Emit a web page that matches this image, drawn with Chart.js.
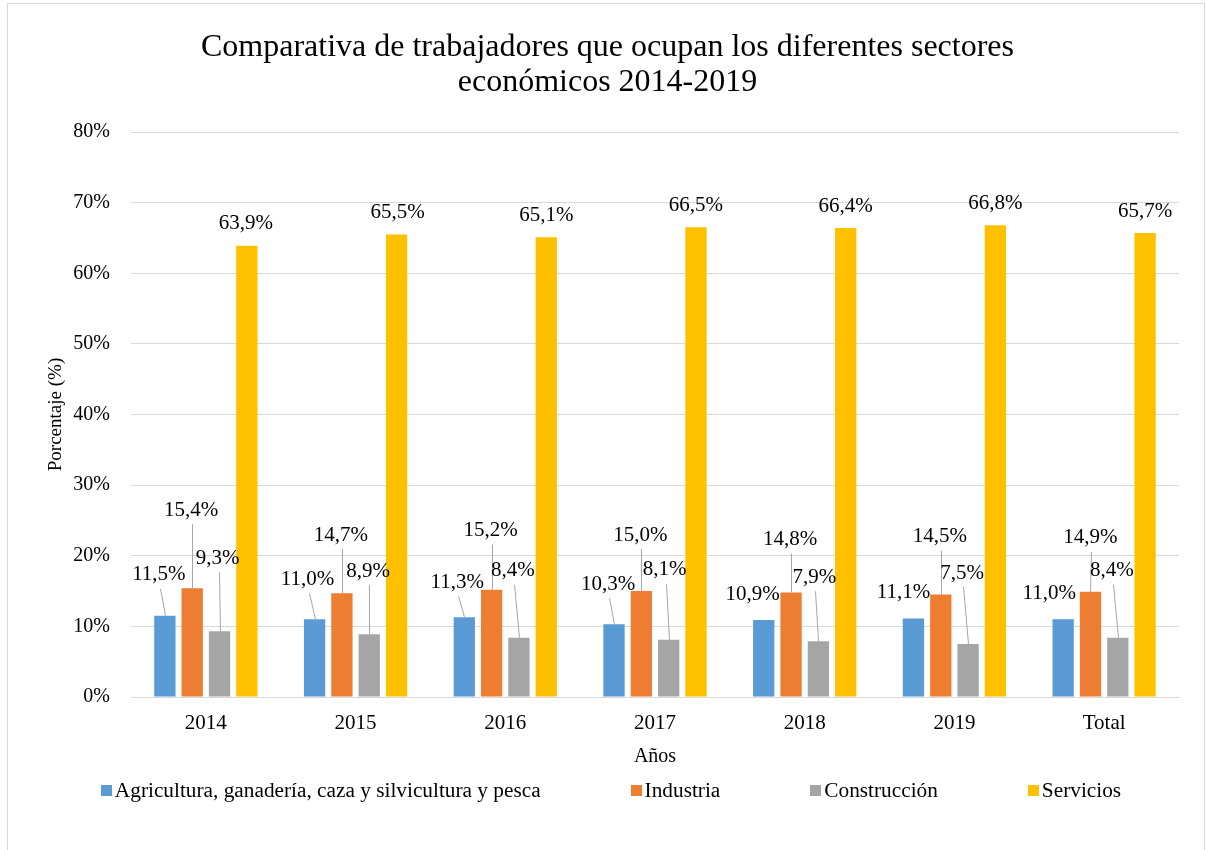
<!DOCTYPE html>
<html>
<head>
<meta charset="utf-8">
<script src="https://cdn.jsdelivr.net/npm/chart.js@4.4.0/dist/chart.umd.min.js"></script>
<style>
  html, body { margin: 0; padding: 0; background: #fff; }
  #contenitore { position: relative; width: 1207px; height: 850px; }
</style>
</head>
<body>
<div id="contenitore"><canvas id="grafico" width="1207" height="850"></canvas></div>
<script>
// DATI
const anni = ["2014", "2015", "2016", "2017", "2018", "2019", "Total"];
const agricultura = [11.5, 11.0, 11.3, 10.3, 10.9, 11.1, 11.0];
const industria = [15.4, 14.7, 15.2, 15.0, 14.8, 14.5, 14.9];
const construccion = [9.3, 8.9, 8.4, 8.1, 7.9, 7.5, 8.4];
const servicios = [63.9, 65.5, 65.1, 66.5, 66.4, 66.8, 65.7];
const tickY = [0, 10, 20, 30, 40, 50, 60, 70, 80];

const nomiSerie = [
  "Agricultura, ganadería, caza y silvicultura y pesca",
  "Industria",
  "Construcción",
  "Servicios",
];
const colori = ["#5B9BD5", "#ED7D31", "#A5A5A5", "#FFC000"];

const FONT = "'Liberation Serif', 'Times New Roman', serif";

// spostamento delle etichette (px) rispetto alla cima di ogni barra
const offEtichette = [
  [[-6, -41], [-7, -40], [-7, -35], [-6, -40], [-11, -26], [-10, -26], [-14, -26]],
  [[-1, -78], [-1, -58], [-1, -59], [-1, -56], [-1, -53], [-1, -58], [0, -54]],
  [[-2, -73], [-1, -63], [-6, -67], [-4, -70], [-4, -64], [-6, -71], [-6, -67]],
  [[-1, -22], [1, -22], [0, -22], [0, -22], [0, -22], [0, -22], [0, -22]],
];

const formato = (v) => v.toFixed(1).replace(".", ",") + "%";

// Cornice grigia attorno al grafico
const cornice = {
  id: "cornice",
  beforeDraw(chart) {
    const ctx = chart.ctx;
    ctx.save();
    ctx.strokeStyle = "#d9d9d9";
    ctx.lineWidth = 1;
    ctx.strokeRect(7.5, 3.5, 1197, 900);
    ctx.restore();
  },
};

// Etichette dei valori con linee guida
const etichette = {
  id: "etichette",
  afterDatasetsDraw(chart) {
    const ctx = chart.ctx;
    ctx.save();
    ctx.font = "21px " + FONT;
    ctx.textAlign = "center";
    ctx.textBaseline = "middle";
    chart.data.datasets.forEach((ds, i) => {
      const meta = chart.getDatasetMeta(i);
      meta.data.forEach((barra, j) => {
        const [dx, dy] = offEtichette[i][j];
        const lx = barra.x + dx;
        const ly = barra.y + dy;
        if (dy < -30) {
          ctx.strokeStyle = "#a6a6a6";
          ctx.lineWidth = 1;
          ctx.beginPath();
          ctx.moveTo(Math.round(lx + 1) + 0.5, ly + 14);
          ctx.lineTo(Math.round(barra.x) + 0.5, barra.y);
          ctx.stroke();
        }
        ctx.fillStyle = "#000";
        ctx.fillText(formato(ds.data[j]), lx, ly);
      });
    });
    ctx.restore();
  },
};

// Legenda disegnata a mano (spaziatura come nell'originale)
const legenda = {
  id: "legenda",
  afterDraw(chart) {
    const ctx = chart.ctx;
    ctx.save();
    ctx.font = "21.3px " + FONT;
    ctx.textBaseline = "middle";
    ctx.textAlign = "left";
    const larghezze = nomiSerie.map((n) => 11 + 3 + ctx.measureText(n).width);
    const spazio = 90;
    const totale = larghezze.reduce((a, b) => a + b, 0) + spazio * (nomiSerie.length - 1);
    let x = 611 - totale / 2;
    const y = 791;
    nomiSerie.forEach((n, i) => {
      ctx.fillStyle = colori[i];
      ctx.fillRect(Math.round(x), y - 6, 11, 11);
      ctx.fillStyle = "#000";
      ctx.fillText(n, x + 14, y);
      x += larghezze[i] + spazio;
    });
    ctx.restore();
  },
};

const serie = [agricultura, industria, construccion, servicios];

const ctx = document.getElementById("grafico").getContext("2d");
const grafico = new Chart(ctx, {
  type: "bar",
  data: {
    labels: anni,
    datasets: serie.map((dati, i) => ({
      label: nomiSerie[i],
      data: dati,
      backgroundColor: colori[i],
      borderWidth: 0,
      categoryPercentage: 0.73,
      barPercentage: 0.78,
    })),
  },
  options: {
    responsive: false,
    animation: false,
    layout: { padding: { top: 10, left: 36, right: 28, bottom: 81 } },
    plugins: {
      legend: { display: false },
      tooltip: { enabled: false },
      title: {
        display: true,
        text: [
          "Comparativa de trabajadores que ocupan los diferentes sectores",
          "económicos 2014-2019",
        ],
        color: "#000",
        font: { family: FONT, size: 32, weight: "normal", lineHeight: 1.1 },
        padding: { top: 20, bottom: 31.6 },
      },
    },
    scales: {
      x: {
        grid: { display: false },
        border: { display: true, color: "#d9d9d9" },
        ticks: { color: "#000", font: { family: FONT, size: 21 }, padding: 6 },
        title: {
          display: true,
          text: "Años",
          color: "#000",
          font: { family: FONT, size: 20 },
          padding: { top: 0, bottom: 0 },
        },
        afterFit(scala) {
          scala.height = 72;
        },
      },
      y: {
        min: 0,
        max: 80,
        afterBuildTicks(scala) {
          scala.ticks = tickY.map((v) => ({ value: v }));
        },
        grid: { color: "#d9d9d9", drawTicks: false },
        border: { display: false },
        ticks: {
          color: "#000",
          font: { family: FONT, size: 20 },
          padding: 21,
          callback: (v) => v + "%",
        },
        title: {
          display: true,
          text: "Porcentaje (%)",
          color: "#000",
          font: { family: FONT, size: 19 },
          padding: { top: 9, bottom: 0 },
        },
        afterFit(scala) {
          scala.width = 95;
        },
      },
    },
  },
  plugins: [cornice, etichette, legenda],
});
</script>
</body>
</html>
